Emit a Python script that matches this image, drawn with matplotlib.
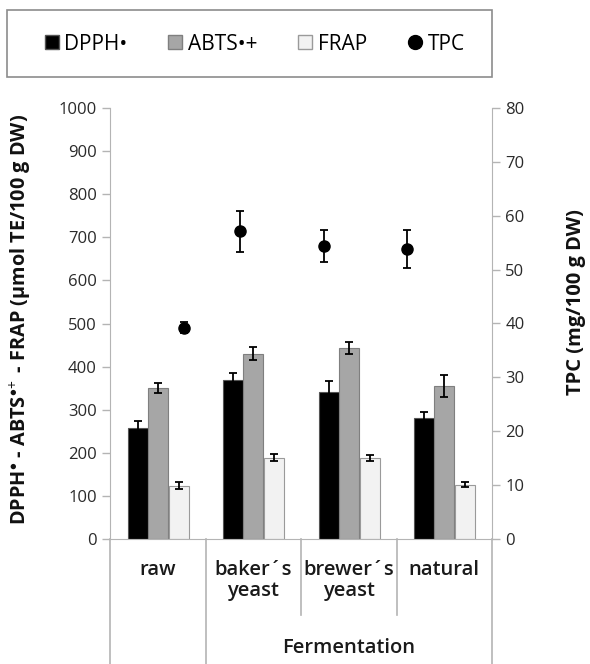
import numpy as np
import matplotlib
matplotlib.use("Agg")
import matplotlib.pyplot as plt
from matplotlib.lines import Line2D
from matplotlib.patches import Rectangle
import matplotlib.transforms as mtransforms

plt.rcParams['font.family'] = ['Open Sans', 'DejaVu Sans']
plt.rcParams['mathtext.fontset'] = 'custom'
plt.rcParams['mathtext.rm'] = 'Open Sans'
plt.rcParams['mathtext.bf'] = 'Open Sans:bold'

# datos
categorias = ["raw", "baker´s\nyeast", "brewer´s\nyeast", "natural"]
dpph = [258, 368, 342, 280]
dpph_err = [16, 17, 24, 15]
abts = [350, 430, 444, 355]
abts_err = [12, 15, 14, 25]
frap = [124, 189, 187, 126]
frap_err = [8, 9, 7, 6]
tpc = [39.2, 57.1, 54.4, 53.8]
tpc_err = [1.0, 3.8, 3.0, 3.5]

# desplazamiento de los puntos TPC respecto al centro de cada categoria
tpc_offset = [0.28, -0.14, -0.26, -0.39]

gris = '#a6a6a6'
linea = '#b4b4b4'

fig = plt.figure(figsize=(5.9, 6.64), dpi=100)
ax = fig.add_axes([110/590, 1-539/664, 382/590, 431/664])

x = np.arange(len(categorias))
w = 0.21
ek = dict(ecolor='black', elinewidth=1.3, capsize=3, capthick=1.3)
ax.bar(x - w, dpph, w, yerr=dpph_err, color='black', edgecolor='#555555', linewidth=0.8, error_kw=ek, zorder=2)
ax.bar(x, abts, w, yerr=abts_err, color=gris, edgecolor='#7f7f7f', linewidth=0.8, error_kw=ek, zorder=2)
ax.bar(x + w + 0.01, frap, w, yerr=frap_err, color='#f2f2f2', edgecolor='#9a9a9a', linewidth=0.8, error_kw=ek, zorder=2)

ax.set_xlim(-0.5, 3.5)
ax.set_ylim(0, 1000)
ax.set_yticks(np.arange(0, 1001, 100))
ax.set_xticks([])
for s in ['top', 'right']:
    ax.spines[s].set_visible(False)
for s in ['left', 'bottom']:
    ax.spines[s].set_color(linea)
ax.tick_params(axis='y', colors=linea, labelcolor='#2a2a2a', labelsize=12, length=6, width=1)
ax.set_ylabel(r"DPPH$^{\bullet}$ - ABTS$^{\bullet\!+}$ - FRAP (µmol TE/100 g DW)",
              fontsize=14.3, fontweight='bold', color='#111111')
ax.yaxis.set_label_coords(-0.20, 0.51)

ax2 = ax.twinx()
ax2.errorbar(x + np.array(tpc_offset), tpc, yerr=tpc_err, fmt='o', color='black',
             markersize=8, elinewidth=1.3, capsize=3, capthick=1.3, zorder=3)
ax2.set_ylim(0, 80)
ax2.set_yticks(np.arange(0, 81, 10))
for s in ['top', 'left', 'bottom']:
    ax2.spines[s].set_visible(False)
ax2.spines['right'].set_color(linea)
ax2.tick_params(axis='y', colors=linea, labelcolor='#2a2a2a', labelsize=12, length=6, width=1)
ax2.set_ylabel("TPC (mg/100 g DW)", fontsize=14.5, fontweight='bold', color='#111111')
ax2.yaxis.set_label_coords(1.193, 0.55)

# separadores de categorias por debajo del eje
trans = mtransforms.blended_transform_factory(ax.transData, fig.transFigure)
for xs, y_fin in [(-0.5, 0.0), (0.5, 0.0), (1.5, 1-615/664), (2.5, 1-615/664), (3.5, 0.0)]:
    ax.add_line(Line2D([xs, xs], [1-539/664, y_fin], transform=trans, color=linea,
                       linewidth=1.2, clip_on=False))

for i, c in enumerate(categorias):
    ax.text(x[i], 1-560/664, c, transform=trans, ha='center', va='top', fontsize=14.5,
            fontweight='semibold', linespacing=1.05, color='#1a1a1a')
ax.text(2.0, 1-648/664, "Fermentation", transform=trans, ha='center', va='center',
        fontsize=14.5, fontweight='semibold', color='#1a1a1a')

# leyenda con marco propio
fig.patches.append(Rectangle((7/590, 1-77/664), 485/590, 67/664, transform=fig.transFigure,
                             facecolor='white', edgecolor='#8c8c8c', linewidth=1.2))
handles = [
    Line2D([], [], linestyle='none', marker='s', markersize=10, markerfacecolor='black', markeredgecolor='#555555'),
    Line2D([], [], linestyle='none', marker='s', markersize=10, markerfacecolor=gris, markeredgecolor='#7f7f7f'),
    Line2D([], [], linestyle='none', marker='s', markersize=10, markerfacecolor='#f2f2f2', markeredgecolor='#9a9a9a'),
    Line2D([], [], linestyle='none', marker='o', markersize=10, markerfacecolor='black', markeredgecolor='black'),
]
fig.legend(handles, ["DPPH•", "ABTS•+", "FRAP", "TPC"], loc='center', ncol=4,
           bbox_to_anchor=(254/590, 1-44/664), frameon=False, fontsize=15,
           handlelength=0.8, handletextpad=0.2, columnspacing=1.9)

fig.savefig("out.png", dpi=100)
